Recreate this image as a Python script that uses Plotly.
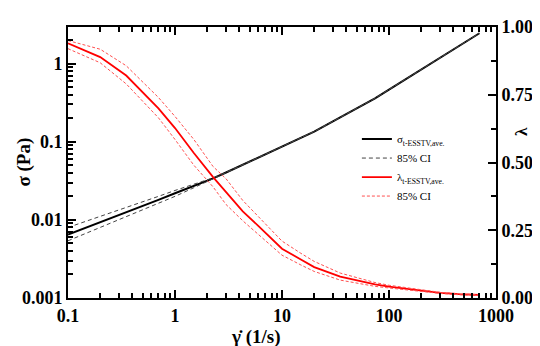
import plotly.graph_objects as go

# shear rate (1/s)
shear_rate = [0.1, 0.2, 0.35, 0.7, 1, 1.5, 2.27, 3, 4.3, 6, 10, 15, 20, 35, 50, 74, 100, 140, 200, 300, 450, 700]

# sigma (Pa), average and 85% CI
sigma_ave = [0.0065, 0.0093, 0.0125, 0.018, 0.0219, 0.0272, 0.034, 0.0404, 0.0507, 0.0625, 0.0863, 0.111, 0.135, 0.205, 0.268, 0.36, 0.466, 0.62, 0.85, 1.2, 1.7, 2.45]
sigma_ci_up = [0.0080, 0.0110, 0.0143, 0.0200, 0.0238, 0.0285, 0.0345, 0.0406, 0.0508, 0.0626, 0.0864, 0.111, 0.135, 0.205, 0.268, 0.36, 0.466, 0.62, 0.85, 1.2, 1.7, 2.45]
sigma_ci_low = [0.0054, 0.0080, 0.0110, 0.0162, 0.0200, 0.0258, 0.0333, 0.0400, 0.0505, 0.0624, 0.0862, 0.111, 0.135, 0.205, 0.268, 0.36, 0.466, 0.62, 0.85, 1.2, 1.7, 2.45]

# lambda, average and 85% CI
lam_ave = [0.94, 0.889, 0.821, 0.70, 0.627, 0.535, 0.446, 0.392, 0.32, 0.266, 0.182, 0.142, 0.114, 0.079, 0.064, 0.05, 0.042, 0.035, 0.025, 0.019, 0.014, 0.011]
lam_ci_up = [0.95, 0.918, 0.857, 0.74, 0.67, 0.585, 0.485, 0.44, 0.36, 0.30, 0.21, 0.165, 0.135, 0.092, 0.074, 0.057, 0.047, 0.039, 0.029, 0.021, 0.016, 0.012]
lam_ci_low = [0.92, 0.868, 0.79, 0.665, 0.585, 0.49, 0.41, 0.345, 0.285, 0.235, 0.158, 0.122, 0.098, 0.066, 0.055, 0.043, 0.037, 0.031, 0.022, 0.017, 0.012, 0.009]

x_ticks = [0.1, 1, 10, 100, 1000]
x_ticktext = ["0.1", "1", "10", "100", "1000"]
y_ticks = [0.001, 0.01, 0.1, 1]
y_ticktext = ["0.001", "0.01", "0.1", "1"]
y2_ticks = [0, 0.25, 0.5, 0.75, 1.0]
y2_ticktext = ["0.00", "0.25", "0.50", "0.75", "1.00"]
x_minor = [m * 10 ** e for e in (-1, 0, 1, 2) for m in range(2, 10)]
y_minor = [m * 10 ** e for e in (-3, -2, -1, 0) for m in range(2, 10)]
y2_minor = [0.125, 0.375, 0.625, 0.875]

FONT = '"Liberation Serif", "Times New Roman", Times, serif'
tickfont = dict(family=FONT, size=18, color="black", weight="bold")
minor_style = dict(tickmode="array", ticks="inside", ticklen=5, tickwidth=1.5,
                   tickcolor="black", showgrid=False)

fig = go.Figure()
fig.add_trace(go.Scatter(x=shear_rate, y=sigma_ave, mode="lines",
                         line=dict(color="black", width=2),
                         name="σ<sub>t-ESSTV,ave.</sub>"))
fig.add_trace(go.Scatter(x=shear_rate, y=sigma_ci_up, mode="lines",
                         line=dict(color="#444444", width=1, dash="4px,3px"),
                         name="85% CI"))
fig.add_trace(go.Scatter(x=shear_rate, y=sigma_ci_low, mode="lines",
                         line=dict(color="#444444", width=1, dash="4px,3px"),
                         showlegend=False))
fig.add_trace(go.Scatter(x=shear_rate, y=lam_ave, mode="lines", yaxis="y2",
                         line=dict(color="#ff0000", width=1.8),
                         name="λ<sub>t-ESSTV,ave.</sub>"))
fig.add_trace(go.Scatter(x=shear_rate, y=lam_ci_up, mode="lines", yaxis="y2",
                         line=dict(color="#ff5050", width=1, dash="3px,2px"),
                         name="85% CI"))
fig.add_trace(go.Scatter(x=shear_rate, y=lam_ci_low, mode="lines", yaxis="y2",
                         line=dict(color="#ff5050", width=1, dash="3px,2px"),
                         showlegend=False))

fig.update_layout(
    width=540, height=346,
    margin=dict(l=60, r=52, t=9, b=56),
    paper_bgcolor="white", plot_bgcolor="white",
    font=dict(family=FONT, color="black"),
    showlegend=True,
    legend=dict(x=0.675, y=0.64, xanchor="left", yanchor="top",
                bgcolor="rgba(0,0,0,0)", font=dict(family=FONT, size=11, color="black"),
                itemwidth=30, tracegroupgap=0),
    xaxis=dict(type="log", range=[-1, 3], tickmode="array", tickvals=x_ticks, ticktext=x_ticktext,
               ticks="inside", ticklen=8, tickwidth=1.8, tickcolor="black", mirror="ticks",
               showline=True, linewidth=2, linecolor="black", showgrid=False,
               zeroline=False, tickfont=tickfont,
               minor=dict(tickvals=x_minor, **minor_style)),
    yaxis=dict(type="log", range=[-3, 0.469], tickmode="array", tickvals=y_ticks, ticktext=y_ticktext,
               ticks="inside", ticklen=8, tickwidth=1.8, tickcolor="black",
               showline=True, linewidth=2, linecolor="black", showgrid=False,
               zeroline=False, tickfont=tickfont,
               minor=dict(tickvals=y_minor, **minor_style)),
    yaxis2=dict(overlaying="y", side="right", range=[0, 1], tickmode="array", tickvals=y2_ticks,
                ticktext=y2_ticktext, ticks="inside", ticklen=8, tickwidth=1.8, tickcolor="black",
                showline=True, linewidth=2, linecolor="black", showgrid=False,
                zeroline=False, tickfont=tickfont,
                minor=dict(tickvals=y2_minor, **minor_style)),
    annotations=[
        dict(text="<b>γ̇ (1/s)</b>", xref="paper", yref="paper", x=0.437, y=-0.145,
             xanchor="center", yanchor="middle", showarrow=False,
             font=dict(family=FONT, size=19, color="black")),
        dict(text="<b>σ (Pa)</b>", xref="paper", yref="paper", x=-0.105, y=0.5,
             xanchor="center", yanchor="middle", showarrow=False, textangle=-90,
             font=dict(family=FONT, size=19, color="black")),
        dict(text="<b>λ</b>", xref="paper", yref="paper", x=1.06, y=0.615,
             xanchor="center", yanchor="middle", showarrow=False, textangle=-90,
             font=dict(family=FONT, size=17, color="black")),
    ],
)

fig.write_html("out.html")
